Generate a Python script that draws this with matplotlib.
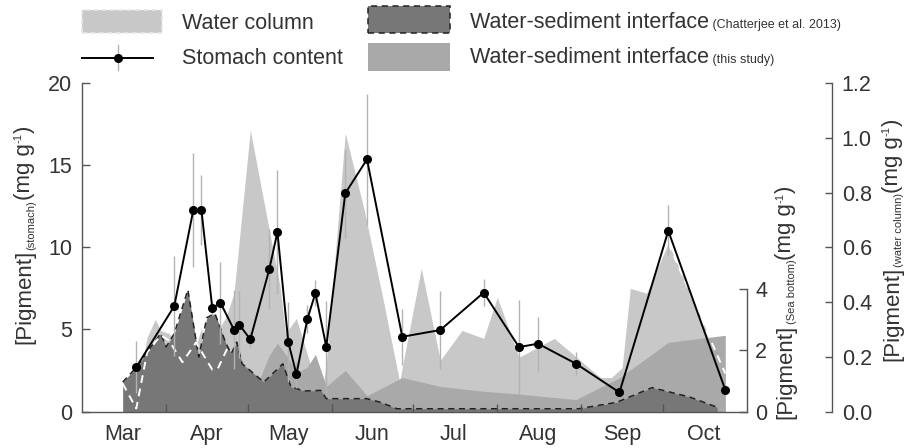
import numpy as np
import pandas as pd
import matplotlib
matplotlib.use('Agg')
import matplotlib.pyplot as plt
import matplotlib.dates as mdates
from matplotlib.patches import Rectangle
from matplotlib.lines import Line2D
from matplotlib.transforms import IdentityTransform
from matplotlib.ticker import FixedLocator, FormatStrFormatter, NullFormatter

plt.rcParams['font.family'] = ['Liberation Sans', 'DejaVu Sans']

YEAR = '2015'
def to_dates(lst):
    return pd.to_datetime([f'{YEAR}-{s}' for s in lst])

# ---- Stomach content (left axis, mg g-1) ----
stomach_dates = ['03-21', '04-04', '04-11', '04-14', '04-18', '04-21', '04-26', '04-28',
                 '05-02', '05-09', '05-12', '05-16', '05-19', '05-23', '05-26', '05-30',
                 '06-06', '06-14', '06-27', '07-11', '07-27', '08-09', '08-16', '08-30',
                 '09-15', '10-03', '10-24']
stomach_vals = [2.70, 6.42, 12.26, 12.26, 6.29, 6.62, 4.98, 5.28,
                4.39, 8.66, 10.93, 4.23, 2.26, 5.61, 7.21, 3.94,
                13.29, 15.35, 4.55, 4.96, 7.24, 3.92, 4.13, 2.91,
                1.16, 11.00, 1.32]
stomach_err = [1.6, 3.05, 3.46, 2.15, 0.4, 2.48, 2.4, 2.03,
               0.5, 2.44, 3.76, 2.44, 0.8, 0.85, 0.81, 2.8,
               2.72, 4.0, 1.69, 2.4, 0.82, 2.85, 1.65, 0.69,
               0.3, 1.55, 0.3]

# ---- Water column (far right axis) ----
wc_dates = ['03-16', '03-21', '03-25', '03-28', '03-30', '04-02', '04-08', '04-12',
            '04-14', '04-15', '04-19', '04-23', '04-26', '05-02', '05-09', '05-13',
            '05-15', '05-19', '05-24', '05-26', '05-29', '05-30', '06-06', '06-13',
            '06-20', '06-26', '07-04', '07-11', '07-19', '07-27', '08-01', '08-09',
            '08-22', '09-08', '09-12', '09-16', '09-19', '09-25', '10-03', '10-24']
wc_vals = [0.102, 0.059, 0.271, 0.337, 0.296, 0.285, 0.223, 0.240,
           0.304, 0.240, 0.278, 0.344, 0.432, 1.028, 0.662, 0.454,
           0.285, 0.340, 0.176, 0.205, 0.106, 0.176, 1.017, 0.735,
           0.406, 0.110, 0.523, 0.187, 0.296, 0.267, 0.417, 0.198,
           0.267, 0.124, 0.124, 0.160, 0.450, 0.432, 0.615, 0.139]
# dashed outline of the water column where it shows through the sediment layers
wc_line_dates = ['03-16', '03-21', '03-25', '03-30', '04-02', '04-07', '04-12',
                 '04-18', '04-20', '04-24']
wc_line_vals = [0.102, 0.011, 0.216, 0.278, 0.260, 0.180, 0.252,
                0.153, 0.156, 0.240]
wc_line2_dates = ['10-03', '10-24']
wc_line2_vals = [0.615, 0.139]

# ---- Water-sediment interface, this study (sea-bottom axis) ----
ws_dates = ['03-21', '04-04', '04-11', '04-14', '04-18', '04-21', '04-26', '04-28',
            '05-02', '05-09', '05-12', '05-16', '05-19', '05-23', '05-26', '05-30',
            '06-06', '06-14', '06-27', '07-11', '07-27', '08-09', '08-16', '08-30',
            '09-15', '10-03', '10-24']
ws_vals = [0.6, 0.6, 0.6, 0.6, 0.6, 0.6, 0.6, 0.6,
           0.3, 1.84, 2.23, 1.75, 1.25, 1.45, 1.87, 0.82,
           1.34, 0.52, 1.11, 0.82, 0.66, 0.57, 0.51, 0.39,
           1.10, 2.26, 2.49]

# ---- Water-sediment interface, Chatterjee et al. 2013 (sea-bottom axis) ----
ch_dates = ['03-16', '03-21', '03-25', '03-30', '04-01', '04-04', '04-09', '04-13',
            '04-16', '04-19', '04-23', '04-25', '04-27', '04-29', '05-07', '05-14',
            '05-17', '05-22', '05-28', '05-30', '06-14', '06-19', '06-25', '08-31',
            '09-14', '09-27', '10-11', '10-21']
ch_vals = [0.96, 1.44, 1.94, 2.55, 2.11, 2.55, 3.98, 1.78,
           3.07, 3.20, 2.23, 1.89, 2.27, 1.56, 0.96, 1.56,
           0.80, 0.67, 0.69, 0.42, 0.42, 0.30, 0.09, 0.09,
           0.30, 0.78, 0.47, 0.14]

month_tick_days = ['04-01', '05-01', '06-01', '07-01', '08-01', '09-01', '10-01']

TXT = '#333333'
SPN = '#555555'
C_WC = '#c8c8c8'
C_WS = '#a9a9a9'
C_CH = '#777777'
FS = 15.5
FSL = 16
SUB = 8

W, H = 906, 448
fig = plt.figure(figsize=(W / 100, H / 100), dpi=100)
ax = fig.add_axes([82 / W, 1 - 411.5 / H, 665 / W, 328.5 / H])
ax_wc = ax.twinx()
ax_sb = ax.twinx()
ax_wc.set_zorder(1)
ax_sb.set_zorder(2)
ax.set_zorder(3)
for a in (ax, ax_wc, ax_sb):
    a.patch.set_visible(False)

st_d = to_dates(stomach_dates)
wc_d = to_dates(wc_dates)
ws_d = to_dates(ws_dates)
ch_d = to_dates(ch_dates)

# fills
ax_wc.fill_between(wc_d, wc_vals, 0, color=C_WC, lw=0)
ax_sb.fill_between(ws_d, ws_vals, 0, color=C_WS, lw=0)
ax_sb.fill_between(ch_d, ch_vals, 0, color=C_CH, lw=0)
ax_sb.plot(ch_d, ch_vals, color='#222222', lw=1.1, ls=(0, (4, 3)))
# white dashed outline of water column
for dd, vv in ((wc_line_dates, wc_line_vals), (wc_line2_dates, wc_line2_vals)):
    ax_sb.plot(to_dates(dd), vv, transform=ax_wc.transData, color='white', lw=1.4,
               ls=(0, (4, 3)))

# stomach
ax.errorbar(st_d, stomach_vals, yerr=stomach_err, fmt='none', ecolor='#b3b3b3',
            elinewidth=1.0, capsize=0, zorder=2)
ax.plot(st_d, stomach_vals, color='black', lw=1.4, marker='o', ms=5.5, zorder=3)

# limits
xmin, xmax = pd.Timestamp(f'{YEAR}-03-01'), pd.Timestamp(f'{YEAR}-11-01')
ax.set_xlim(xmin, xmax)
ax.set_ylim(0, 20)
ax_sb.set_ylim(0, 328.5 / 30.6)
ax_wc.set_ylim(0, 1.2)

# spines
for a in (ax, ax_wc, ax_sb):
    for s in a.spines.values():
        s.set_visible(False)
        s.set_color(SPN)
        s.set_linewidth(1.0)
ax.spines['left'].set_visible(True)
ax.spines['bottom'].set_visible(True)
ax_sb.spines['right'].set_visible(True)
ax_sb.spines['right'].set_bounds(0, 4)
ax_wc.spines['right'].set_visible(True)
ax_wc.spines['right'].set_position(('axes', (832 - 82) / 665))

# ticks
ax.set_yticks([0, 5, 10, 15, 20])
ax.tick_params(axis='y', direction='in', length=6, width=1, color=SPN, labelsize=FS,
               labelcolor=TXT, pad=7)
ax.xaxis.set_major_locator(FixedLocator(mdates.date2num(to_dates(month_tick_days))))
ax.xaxis.set_major_formatter(NullFormatter())
ax.xaxis.set_minor_locator(mdates.MonthLocator(bymonthday=16))
ax.xaxis.set_minor_formatter(mdates.DateFormatter('%b'))
ax.tick_params(axis='x', which='major', direction='in', length=6, width=1, color=SPN)
ax.tick_params(axis='x', which='minor', length=0, labelsize=FS, labelcolor=TXT, pad=9)

ax_sb.set_yticks([0, 2, 4])
ax_sb.tick_params(axis='y', direction='in', length=6, width=1, color=SPN, labelsize=FS,
                  labelcolor=TXT, pad=6)
ax_wc.set_yticks(np.arange(0, 1.21, 0.2))
ax_wc.yaxis.set_major_formatter(FormatStrFormatter('%.1f'))
ax_wc.tick_params(axis='y', direction='in', length=5, width=1, color=SPN, labelsize=FS,
                  labelcolor=TXT, pad=7)

# ---- rich text helper (mixed sizes) ----
renderer = fig.canvas.get_renderer()

def rich(pieces, x0, y0, rotation=0, center=False):
    texts, lens = [], []
    for s, size, shift in pieces:
        t = fig.text(0, 0, s, fontsize=size, rotation=rotation, rotation_mode='anchor',
                     ha='left', va='baseline', color=TXT, transform=IdentityTransform())
        bb = t.get_window_extent(renderer)
        lens.append(bb.width if rotation == 0 else bb.height)
        texts.append(t)
    pos = -sum(lens) / 2 if center else 0
    for t, L, (s, size, shift) in zip(texts, lens, pieces):
        if rotation == 0:
            t.set_position((x0 + pos, y0 + shift))
        else:
            t.set_position((x0 - shift, y0 + pos))
        pos += L

rich([('[Pigment]', FSL, 0), ('(stomach)', SUB, -4), ('(mg g', FSL, 0), ('-1', SUB, 8), (')', FSL, 0)],
     30, H - 235, rotation=90, center=True)
rich([('[Pigment]', FSL, 0), ('(Sea bottom)', SUB, -4), ('(mg g', FSL, 0), ('-1', SUB, 8), (')', FSL, 0)],
     791, H - 302, rotation=90, center=True)
rich([('[Pigment]', FSL, 0), ('(water column)', SUB, -4), ('(mg g', FSL, 0), ('-1', SUB, 8), (')', FSL, 0)],
     898, H - 240, rotation=90, center=True)

# ---- legend (drawn manually) ----
fig.add_artist(Rectangle((82, H - 33), 80, 23, transform=IdentityTransform(),
                         facecolor=C_WC, edgecolor='#e8e8e8', lw=1.2, ls=(0, (3, 2))))
fig.add_artist(Line2D([82, 153], [H - 57.5, H - 57.5], transform=IdentityTransform(),
                      color='black', lw=1.4))
fig.add_artist(Line2D([118, 118], [H - 45, H - 70], transform=IdentityTransform(),
                      color='#b3b3b3', lw=1.0))
fig.add_artist(Line2D([118], [H - 57.5], transform=IdentityTransform(), color='black',
                      marker='o', ms=5.5, lw=0))
fig.add_artist(Rectangle((367.5, H - 33), 82.5, 27, transform=IdentityTransform(),
                         facecolor=C_CH, edgecolor='#222222', lw=1.1, ls=(0, (4, 3))))
fig.add_artist(Rectangle((367.5, H - 71), 82.5, 28, transform=IdentityTransform(),
                         facecolor=C_WS, edgecolor='none', lw=0))
rich([('Water column', FS, 0)], 182, H - 28.5)
rich([('Stomach content', FS, 0)], 182, H - 63.5)
rich([('Water-sediment interface', FS, 0), (' (Chatterjee et al. 2013)', 9, 0)], 470, H - 27.5)
rich([('Water-sediment interface', FS, 0), (' (this study)', 9, 0)], 470, H - 63)

fig.savefig('out.png', dpi=100, facecolor='white')
